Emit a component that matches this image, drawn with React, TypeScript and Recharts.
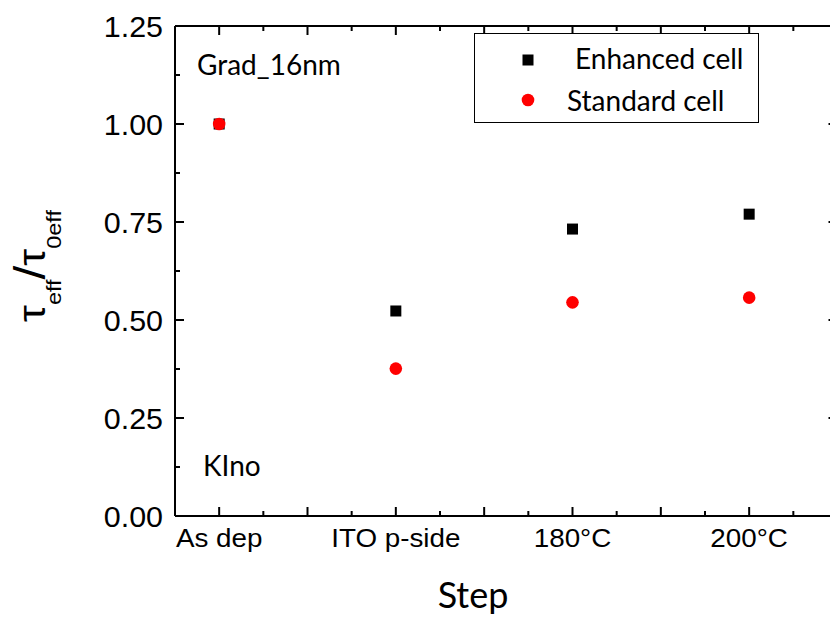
import React from "react";
import {
  ScatterChart,
  Scatter,
  XAxis,
  YAxis,
  Legend,
  Customized,
} from "recharts";

// steps along the x axis, placed at 1..n
const categories = ["As dep", "ITO p-side", "180°C", "200°C"];
const enhancedCell = [1.0, 0.523, 0.732, 0.77];
const standardCell = [1.0, 0.376, 0.545, 0.557];

const xTicks = [1, 1.25, 1.5, 1.75, 2, 2.25, 2.5, 2.75, 3, 3.25, 3.5, 3.75, 4, 4.25];
const yTicks = [0, 0.125, 0.25, 0.375, 0.5, 0.625, 0.75, 0.875, 1, 1.125, 1.25];

const enhancedData = categories.map((c, i) => ({ x: i + 1, y: enhancedCell[i], name: c }));
const standardData = categories.map((c, i) => ({ x: i + 1, y: standardCell[i], name: c }));

const W = 850;
const H = 623;
const AX = 1; // axis band size
const ARIAL = "'Liberation Sans', Arial, sans-serif";
const CALIBRI = "Lato, 'Open Sans', sans-serif";

const isMajor = (v: number, step: number) => Math.abs(v / step - Math.round(v / step)) < 1e-6;

function BottomTick(props: any) {
  const { x, y, payload } = props;
  const v = payload.value as number;
  const major = isMajor(v, 0.5);
  const idx = Math.round(v) - 1;
  const showLabel = isMajor(v, 1) && categories[idx] !== undefined;
  return (
    <g>
      <line x1={x} x2={x} y1={y} y2={y - (major ? 9 : 5)} stroke="#000" strokeWidth={2} />
      {showLabel && (
        <text
          transform={`translate(${x},${y + 31}) scale(1.07,1)`}
          textAnchor="middle"
          fontFamily={ARIAL}
          fontSize={26}
          fill="#000"
        >
          {categories[idx]}
        </text>
      )}
    </g>
  );
}

function TopTick(props: any) {
  const { x, y, payload } = props;
  const major = isMajor(payload.value, 0.5);
  return <line x1={x} x2={x} y1={y} y2={y + (major ? 9 : 5)} stroke="#000" strokeWidth={2} />;
}

function LeftTick(props: any) {
  const { x, y, payload } = props;
  const v = payload.value as number;
  const major = isMajor(v, 0.25);
  return (
    <g>
      <line x1={x} x2={x + (major ? 9 : 5)} y1={y} y2={y} stroke="#000" strokeWidth={2} />
      {major && (
        <text
          transform={`translate(${x - 12},${y + 10.5}) scale(1.05,1)`}
          textAnchor="end"
          fontFamily={ARIAL}
          fontSize={29}
          fill="#000"
        >
          {v.toFixed(2)}
        </text>
      )}
    </g>
  );
}

function RightTick(props: any) {
  const { x, y, payload } = props;
  const major = isMajor(payload.value, 0.25);
  return <line x1={x} x2={x - (major ? 9 : 5)} y1={y} y2={y} stroke="#000" strokeWidth={2} />;
}

const SquareDot = (props: any) => (
  <rect x={props.cx - 5.5} y={props.cy - 5.5} width={11} height={11} fill="#000" />
);
const RoundDot = (props: any) => <circle cx={props.cx} cy={props.cy} r={6.3} fill="#ff0000" />;

function LegendBox() {
  return (
    <svg width={285} height={90} style={{ display: "block" }}>
      <rect x={0.5} y={0.5} width={284} height={89} fill="#fff" stroke="#000" strokeWidth={1} />
      <rect x={48.5} y={21.5} width={11} height={11} fill="#000" />
      <text x={101} y={36} fontFamily={CALIBRI} fontSize={28} fill="#000">
        Enhanced cell
      </text>
      <circle cx={54} cy={67} r={6.3} fill="#ff0000" />
      <text x={93} y={78} fontFamily={CALIBRI} fontSize={28} fill="#000">
        Standard cell
      </text>
    </svg>
  );
}

function Annotations() {
  return (
    <g>
      <text x={197} y={75} fontFamily={CALIBRI} fontSize={28} fill="#000">
        Grad_16nm
      </text>
      <text x={203} y={476} fontFamily={CALIBRI} fontSize={28} fill="#000">
        KIno
      </text>
      <text x={473} y={608} textAnchor="middle" fontFamily={CALIBRI} fontSize={36} fill="#000">
        Step
      </text>
      <text
        transform="translate(45,266) rotate(-90) scale(1.12,1)"
        textAnchor="middle"
        fontFamily={ARIAL}
        fontSize={38}
        fill="#000"
      >
        τ
        <tspan fontSize={21} dy={16}>eff</tspan>
        <tspan fontSize={44} dy={-16}>/</tspan>
        <tspan>τ</tspan>
        <tspan fontSize={21} dy={16}>0eff</tspan>
      </text>
    </g>
  );
}

export default function App() {
  return (
    <div
      style={{
        position: "fixed",
        left: 0,
        top: 0,
        width: 830,
        height: 623,
        overflow: "hidden",
        background: "#fff",
      }}
    >
      <ScatterChart
        width={W}
        height={H}
        margin={{ top: 26 - AX, right: W - 837.5 - AX, left: 175 - AX, bottom: H - 516 - AX }}
      >
        <XAxis
          xAxisId="b"
          type="number"
          dataKey="x"
          domain={[0.75, 4.5]}
          allowDataOverflow
          ticks={xTicks}
          interval={0}
          height={AX}
          tickSize={0}
          tickMargin={0}
          tickLine={false}
          axisLine={{ stroke: "#000", strokeWidth: 2 }}
          tick={<BottomTick />}
        />
        <XAxis
          xAxisId="t"
          orientation="top"
          type="number"
          dataKey="x"
          domain={[0.75, 4.5]}
          allowDataOverflow
          ticks={xTicks}
          interval={0}
          height={AX}
          tickSize={0}
          tickMargin={0}
          tickLine={false}
          axisLine={{ stroke: "#000", strokeWidth: 2 }}
          tick={<TopTick />}
        />
        <YAxis
          yAxisId="l"
          type="number"
          dataKey="y"
          domain={[0, 1.25]}
          allowDataOverflow
          ticks={yTicks}
          interval={0}
          width={AX}
          tickSize={0}
          tickMargin={0}
          tickLine={false}
          axisLine={{ stroke: "#000", strokeWidth: 2 }}
          tick={<LeftTick />}
        />
        <YAxis
          yAxisId="r"
          orientation="right"
          type="number"
          dataKey="y"
          domain={[0, 1.25]}
          allowDataOverflow
          ticks={yTicks}
          interval={0}
          width={AX}
          tickSize={0}
          tickMargin={0}
          tickLine={false}
          axisLine={{ stroke: "#000", strokeWidth: 2 }}
          tick={<RightTick />}
        />
        <Scatter
          name="Enhanced cell"
          data={enhancedData}
          xAxisId="b"
          yAxisId="l"
          shape={SquareDot}
          isAnimationActive={false}
        />
        <Scatter
          name="Standard cell"
          data={standardData}
          xAxisId="b"
          yAxisId="l"
          shape={RoundDot}
          isAnimationActive={false}
        />
        <Legend
          layout="vertical"
          align="center"
          verticalAlign="middle"
          content={<LegendBox />}
          wrapperStyle={{ position: "absolute", left: 474, top: 33, width: 285, height: 90 }}
        />
        <Customized component={Annotations} />
      </ScatterChart>
    </div>
  );
}
